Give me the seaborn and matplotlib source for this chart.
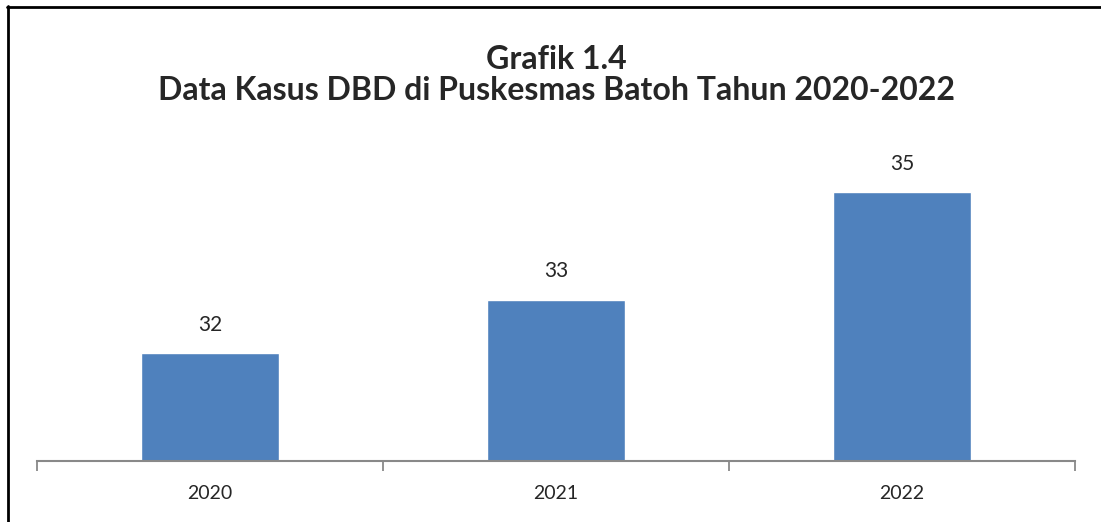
import numpy as np
import pandas as pd
import seaborn as sns
import matplotlib.pyplot as plt
from matplotlib.lines import Line2D

# data
tahun = ['2020', '2021', '2022']
kasus = [32, 33, 35]
judul = 'Grafik 1.4\nData Kasus DBD di Puskesmas Batoh Tahun 2020-2022'

sns.set_style('white')
plt.rcParams['font.family'] = ['Lato', 'DejaVu Sans']

df = pd.DataFrame({'tahun': tahun, 'kasus': kasus})

fig = plt.figure(figsize=(11.01, 5.22), dpi=100)
ax = fig.add_axes([37 / 1101, 61 / 522, (1075 - 37) / 1101, 323 / 522])

sns.barplot(data=df, x='tahun', y='kasus', color='#4F81BD', saturation=1,
            width=0.4, ax=ax)

ax.set_ylim(30, 36)
ax.set_xlim(-0.5, 2.5)

# data labels
for i, v in enumerate(kasus):
    ax.annotate(str(v), (i, v), xytext=(0, 13), textcoords='offset points',
                ha='center', va='bottom', fontsize=15)

# category axis like excel: ticks between categories
ax.set_xticks([-0.5, 0.5, 1.5, 2.5])
ax.set_xticklabels([])
ax.set_xticks([0, 1, 2], minor=True)
ax.set_xticklabels(tahun, minor=True, fontsize=14)
ax.tick_params(axis='x', which='major', bottom=True, length=7, width=1.3,
               color='#898989', direction='out')
ax.tick_params(axis='x', which='minor', bottom=True, length=0, pad=17)
ax.set_yticks([])
ax.set_xlabel('')
ax.set_ylabel('')

for s in ['top', 'right', 'left']:
    ax.spines[s].set_visible(False)
ax.spines['bottom'].set_color('#898989')
ax.spines['bottom'].set_linewidth(1.5)

fig.text(556 / 1101, 1 - 75 / 522, judul, ha='center', va='center',
         fontsize=23, fontweight='bold', linespacing=1.1)

# chart border (top and left)
fig.add_artist(Line2D([7 / 1101, 1], [1 - 6.5 / 522, 1 - 6.5 / 522], color='black', lw=2))
fig.add_artist(Line2D([7.5 / 1101, 7.5 / 1101], [0, 1 - 6 / 522], color='black', lw=2))

fig.savefig('out.png', dpi=100)
